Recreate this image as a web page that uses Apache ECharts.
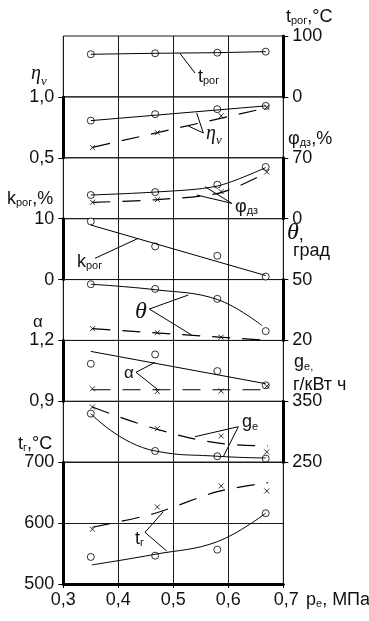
<!DOCTYPE html>
<html><head><meta charset="utf-8">
<script src="https://cdn.jsdelivr.net/npm/echarts@6/dist/echarts.min.js"></script>
<style>html,body{margin:0;padding:0;background:#fff}#c{width:369px;height:621px}</style>
</head><body><div id="c"></div>
<script>
// x positions (p_e, MPa) of measured points
const pC = [0.35, 0.467, 0.58, 0.668];   // circles
const pX = [0.353, 0.471, 0.587, 0.67];  // crosses

// t_рог, °C
const tRogPts = [70.0, 71.6, 72.6, 74.3];
const tRogFit = [70.0, 71.6, 72.6, 74.3];
// eta_v
const etaPts = [0.805, 0.858, 0.899, 0.926];
const etaFitP = [0.35, 0.668], etaFit = [0.805, 0.926];
const etaXPts = [0.583, 0.706, 0.844, 0.915];
const etaXFitP = [0.353, 0.67], etaXFit = [0.586, 0.91];
// phi_дз, %
const phiPts = [27.2, 30.6, 39.1, 59.4];
const phiFit = [27.2, 30.6, 37.5, 58.7];
const phiXPts = [18.8, 21.9, 31.1, 53.7];
const phiXFit = [18.8, 21.9, 30.0, 53.0];
// k_рог, %
const kPts = [9.55, 5.44, 3.9, 0.49];
const kFitP = [0.35, 0.668], kFit = [8.95, 0.66];
// theta, град
const thPts = [47.7, 45.4, 40.5, 24.6];
const thFitP = [0.35, 0.467, 0.58, 0.661], thFit = [47.7, 45.0, 40.2, 27.4];
const thXPts = [25.8, 23.8, 21.6, 19.8];
const thXFitP = [0.353, 0.672], thXFit = [25.8, 20.0];
// alpha
const alPts = [1.085, 1.131, 1.049, 0.979];
const alFitP = [0.35, 0.668], alFit = [1.146, 0.987];
const alXPts = [0.962, 0.949, 0.951, 0.974];
const alXFitP = [0.353, 0.67], alXFit = [0.957, 0.957];
// g_e, г/кВт ч
const gePts = [329.8, 268.5, 259.8, 256.0];
const geFit = [329.8, 268.5, 259.8, 257.0];
const geXPts = [340.7, 305.2, 293.1, 266.9];
const geXFitP = [0.353, 0.467, 0.58, 0.672], geXFit = [340.7, 305.0, 281.7, 276.8];
// t_г, °C
const tgPts = [544.4, 546.5, 556.4, 616.2];
const tgFitP = [0.352, 0.467, 0.58, 0.668], tgFit = [531.4, 548.8, 569.5, 616.2];
const tgXPts = [589.9, 626.5, 661.1, 652.8];
const tgXFitP = [0.353, 0.467, 0.58, 0.672], tgXFit = [593.2, 616.2, 651.7, 666.5];

// axis scales per band
const bandPos = ['right', 'left', 'right', 'left', 'right', 'left', 'right', 'left'];
const bandMin = [0, 0.5, 0, 0, 20, 0.9, 250, 500];
const bandMax = [100, 1.0, 70, 10, 50, 1.2, 350, 700];
const bandTicks = [[0, 100], [0.5, 1.0], [0, 70], [0, 10], [20, 50], [0.9, 1.2], [250, 350], [500, 600, 700]];
const decBands = [1, 5];

const FONT = "'Liberation Sans', Arial, sans-serif";
const SERIF = "'Liberation Serif', 'DejaVu Serif', serif";
const TOP = 36, BOT = 584, BH = (BOT - TOP) / 9;

const grid = [], xAxis = [], yAxis = [];
bandPos.forEach((pos, i) => {
  const last = i === bandPos.length - 1;
  grid.push({left: 63.3, width: 220, top: TOP + i * BH, height: last ? 2 * BH : BH,
    show: true, borderColor: '#1a1a1a', borderWidth: 1, backgroundColor: 'transparent'});
  xAxis.push({gridIndex: i, type: 'value', min: 0.3, max: 0.7, interval: 0.1,
    axisLine: {show: last, onZero: false, lineStyle: {color: '#000', width: 3}},
    axisTick: {show: last, length: 4, lineStyle: {color: '#000', width: 1}},
    axisLabel: {show: last, margin: 7, color: '#111', fontSize: 18, fontFamily: FONT,
      formatter: v => {
        const s = v.toFixed(1).replace('.', ',');
        return Math.abs(v - 0.7) < 1e-6 ? '{r|' + s + '}' : s;
      },
      rich: {r: {fontSize: 18, fontFamily: FONT, color: '#111', padding: [0, 0, 0, 6]}}},
    splitLine: {show: true, lineStyle: {color: '#1a1a1a', width: 1}}});
  const dec = decBands.indexOf(i) >= 0;
  yAxis.push({gridIndex: i, type: 'value', position: pos, min: bandMin[i], max: bandMax[i],
    interval: last ? 100 : undefined,
    axisLine: {show: true, onZero: false, lineStyle: {color: '#000', width: 3}},
    axisTick: {show: true, length: 5, customValues: last ? undefined : bandTicks[i], lineStyle: {color: '#000', width: 1}},
    axisLabel: {show: true, margin: 9, color: '#111', fontSize: 18, fontFamily: FONT,
      customValues: last ? undefined : bandTicks[i],
      formatter: v => dec ? v.toFixed(1).replace('.', ',') : String(v)},
    splitLine: {show: last, lineStyle: {color: '#1a1a1a', width: 1}}});
});

const zip = (xs, ys) => xs.map((x, k) => [x, ys[k]]);
const series = [];
function fit(i, xs, ys, dashed, smooth) {
  series.push({type: 'line', xAxisIndex: i, yAxisIndex: i, data: zip(xs, ys),
    showSymbol: false, symbol: 'none', smooth: smooth || false, silent: true,
    lineStyle: {color: '#000', width: dashed ? 1.2 : 1, type: dashed ? [18, 12] : 'solid'}});
}
function circ(i, ys) {
  series.push({type: 'scatter', xAxisIndex: i, yAxisIndex: i, data: zip(pC, ys),
    symbol: 'circle', symbolSize: 7, silent: true,
    itemStyle: {color: '#fff', borderColor: '#000', borderWidth: 1}});
}
function cross(i, ys) {
  series.push({type: 'scatter', xAxisIndex: i, yAxisIndex: i, data: zip(pX, ys),
    symbol: 'path://M0,0L10,10M0,10L10,0', symbolSize: 5, silent: true,
    itemStyle: {color: 'transparent', borderColor: '#000', borderWidth: 1}});
}
fit(0, pC, tRogFit, false, false); circ(0, tRogPts);
fit(1, etaFitP, etaFit, false); fit(1, etaXFitP, etaXFit, true); circ(1, etaPts); cross(1, etaXPts);
fit(2, pC, phiFit, false, 0.3); fit(2, pX, phiXFit, true, 0.3); circ(2, phiPts); cross(2, phiXPts);
fit(3, kFitP, kFit, false); circ(3, kPts);
fit(4, thFitP, thFit, false, 0.4); fit(4, thXFitP, thXFit, true); circ(4, thPts); cross(4, thXPts);
fit(5, alFitP, alFit, false); fit(5, alXFitP, alXFit, true); circ(5, alPts); cross(5, alXPts);
fit(6, pC, geFit, false, 0.5); fit(6, geXFitP, geXFit, true, 0.4); circ(6, gePts); cross(6, geXPts);
fit(7, tgFitP, tgFit, false, 0.4); fit(7, tgXFitP, tgXFit, true, 0.3); circ(7, tgPts); cross(7, tgXPts);

// ---- annotation texts: chained segments with measured widths ----
const graphic = [];
const mctx = document.createElement('canvas').getContext('2d');
const fontStr = (size, fam, italic) => (italic ? 'italic ' : '') + size + 'px ' + (fam || FONT);
function put(x, base, s, size, fam, italic) {
  graphic.push({type: 'text', x: x, y: base + 0.15 * size, silent: true,
    style: {text: s, fill: '#111', font: fontStr(size, fam, italic),
      textAlign: 'left', textVerticalAlign: 'bottom'}});
  mctx.font = fontStr(size, fam, italic);
  return mctx.measureText(s).width;
}
// parts: [text, size, dy, fam, italic]
function seg(x, base, parts) {
  parts.forEach(p => { x += put(x, base + (p[2] || 0), p[0], p[1], p[3], p[4]); });
}
function leader(pts) {
  graphic.push({type: 'polyline', silent: true, shape: {points: pts},
    style: {stroke: '#000', lineWidth: 1, fill: null}});
}
const SUB = 11;
// right axis titles
seg(286, 23, [['t', 18], ['рог', SUB, 2], [',°C', 18]]);
seg(288, 145, [['φ', 18], ['дз', SUB, 2], [',%', 18]]);
seg(287, 241, [['θ', 24, 0, SERIF, true], [',', 18]]);
seg(293, 257, [['град', 18]]);
seg(294, 368, [['g', 18], ['е', SUB, 3], [',', SUB, 3]]);
seg(293, 391.5, [['г/кВт ч', 18]]);
// left axis titles
seg(31, 81, [['η', 20, 0, SERIF, true], ['v', 13, 5, SERIF, true]]);
seg(7, 205, [['k', 18], ['рог', SUB, 2], [',%', 18]]);
seg(33, 328, [['α', 17]]);
seg(18, 450, [['t', 18], ['г', SUB, 2], [',°C', 18]]);
// x axis title
seg(306, 606, [['p', 18], ['е', SUB, 2], [', МПа', 18]]);

// curve labels + leader lines
seg(198, 83, [['t', 18], ['рог', SUB, 2]]);
leader([[180, 53.5], [195, 73]]);
seg(206, 141, [['η', 20, 0, SERIF, true], ['v', 13, 4, SERIF, true]]);
leader([[196.7, 113], [203.3, 133], [188.3, 126]]);
seg(235, 213, [['φ', 18], ['дз', SUB, 2]]);
leader([[205, 186.7], [231.7, 203.3], [196.7, 195]]);
seg(77, 268, [['k', 18], ['рог', SUB, 2]]);
leader([[95, 258.3], [138.3, 238.3]]);
seg(135, 320, [['θ', 24, 0, SERIF, true]]);
leader([[188.3, 295], [149.3, 309], [191.7, 335]]);
seg(124, 379, [['α', 17]]);
leader([[155, 362.3], [136, 372.3], [158.3, 390]]);
seg(242, 428, [['g', 18], ['е', SUB, 3]]);
leader([[195, 436.7], [238.3, 426.7], [223.3, 456.7]]);
seg(135, 545, [['t', 18], ['г', SUB, 2]]);
leader([[163.3, 511.7], [145, 532.3], [166.7, 551]]);

const chart = echarts.init(document.getElementById('c'), null, {renderer: 'canvas'});
chart.setOption({animation: false, backgroundColor: '#fff', grid, xAxis, yAxis, series, graphic});
</script></body></html>
